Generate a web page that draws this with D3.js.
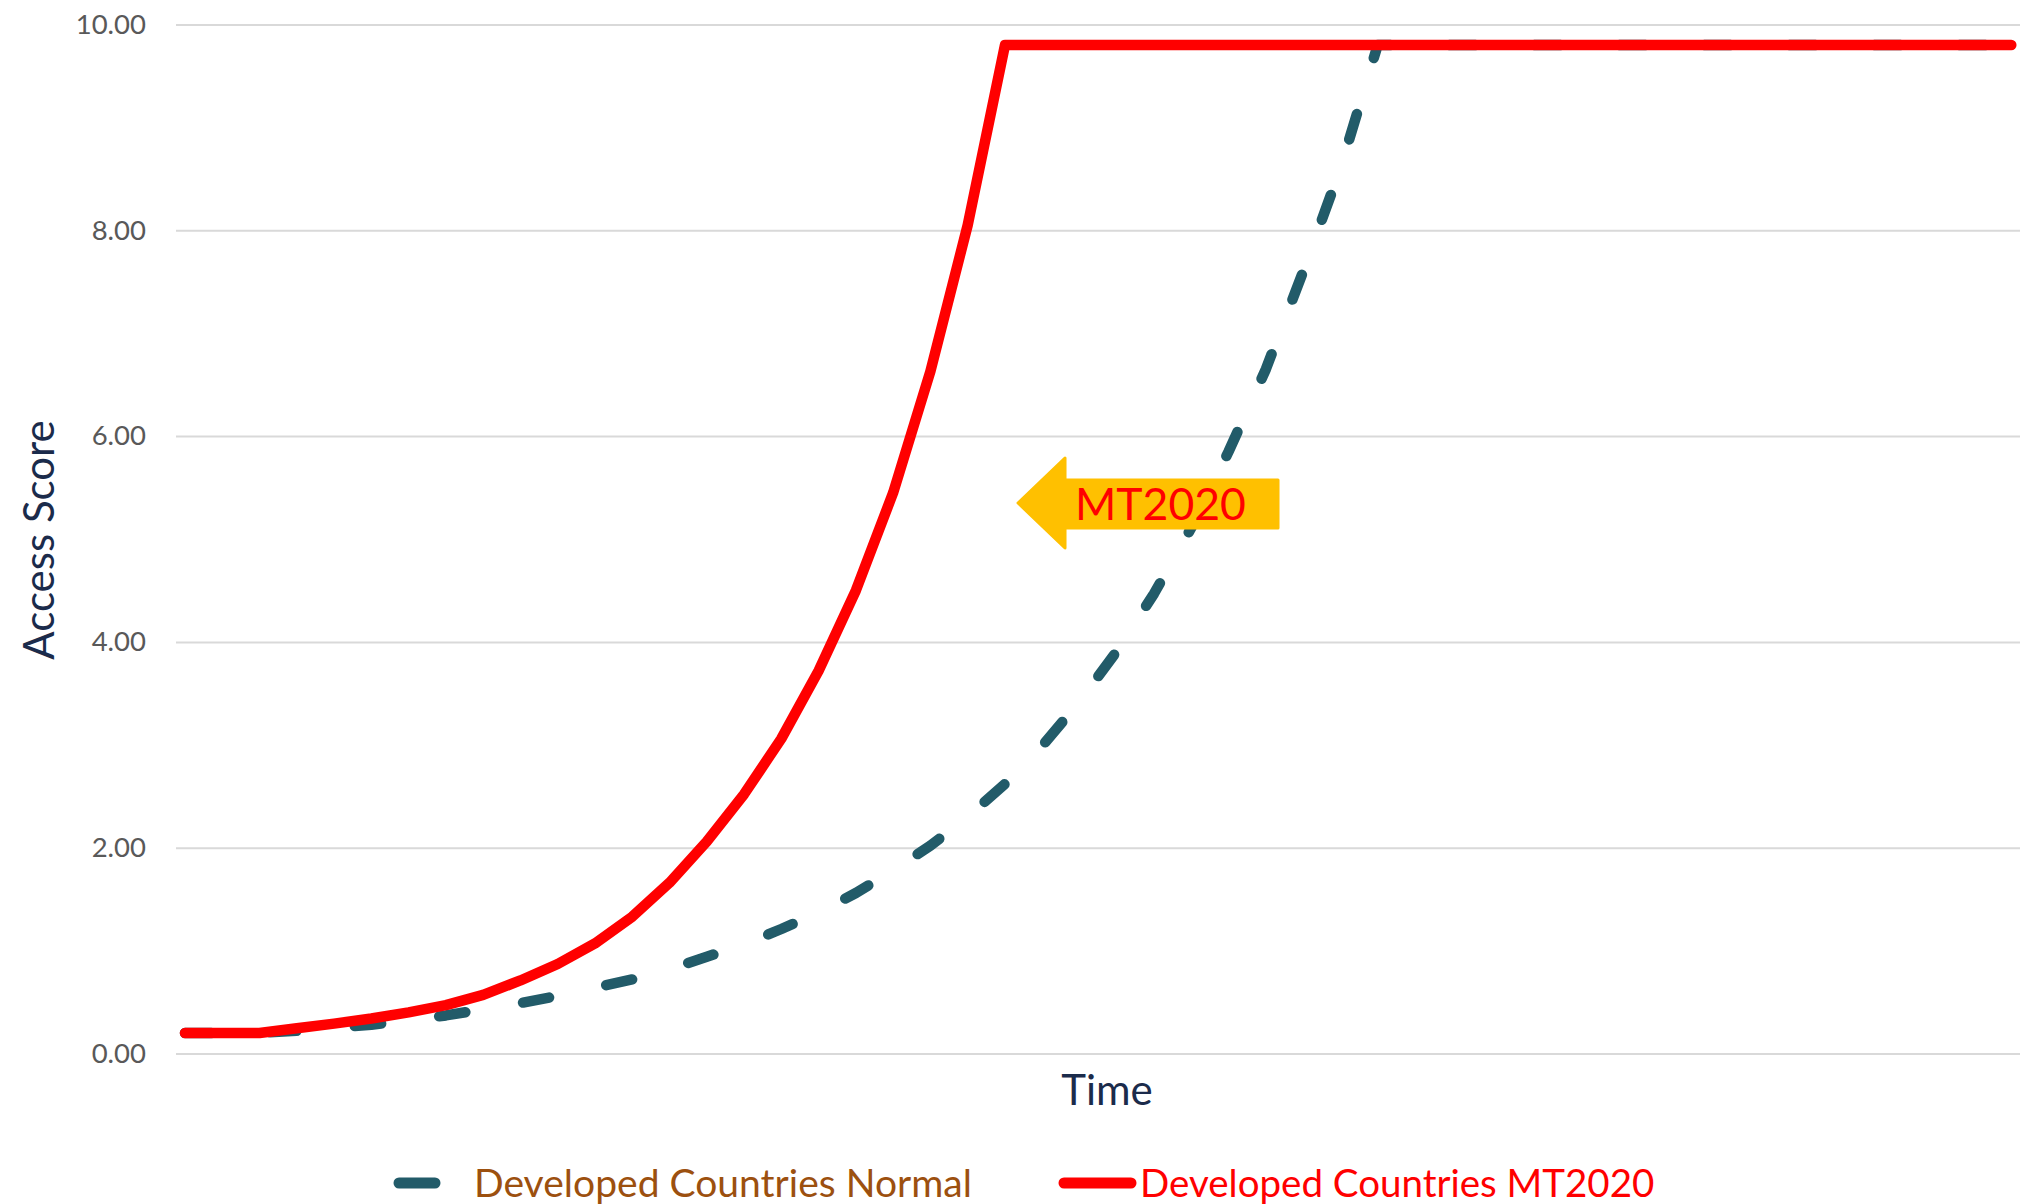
<!DOCTYPE html>
<html>
<head>
<meta charset="utf-8">
<script src="https://cdn.jsdelivr.net/npm/d3@7"></script>
<style>
  html, body { margin: 0; padding: 0; background: #ffffff; }
  svg { display: block; }
  text { font-family: Lato, "Open Sans", sans-serif; }
</style>
</head>
<body>
<svg id="chart" width="2020" height="1204"></svg>
<script>
// Time steps (no labels on the category axis)
const steps = d3.range(50);

// Access score under the normal pathway
const normalScores = [
  0.20, 0.20, 0.20, 0.22, 0.25, 0.28, 0.32, 0.37, 0.43, 0.49,
  0.56, 0.64, 0.72, 0.82, 0.94, 1.06, 1.21, 1.37, 1.56, 1.78,
  2.02, 2.30, 2.62, 2.99, 3.42, 3.91, 4.47, 5.11, 5.85, 6.65,
  7.60, 8.60, 9.80, 9.80, 9.80, 9.80, 9.80, 9.80, 9.80, 9.80,
  9.80, 9.80, 9.80, 9.80, 9.80, 9.80, 9.80, 9.80, 9.80, 9.80
];

// Access score under the accelerated MT2020 pathway
const mt2020Scores = [
  0.20, 0.20, 0.20, 0.245, 0.29, 0.34, 0.40, 0.47, 0.57, 0.71,
  0.87, 1.07, 1.33, 1.66, 2.06, 2.52, 3.06, 3.72, 4.50, 5.45,
  6.63, 8.05, 9.80, 9.80, 9.80, 9.80, 9.80, 9.80, 9.80, 9.80,
  9.80, 9.80, 9.80, 9.80, 9.80, 9.80, 9.80, 9.80, 9.80, 9.80,
  9.80, 9.80, 9.80, 9.80, 9.80, 9.80, 9.80, 9.80, 9.80, 9.80
];

const yTicks = [0, 2, 4, 6, 8, 10];
const seriesNames = ["Developed Countries Normal", "Developed Countries MT2020"];
const axisTitles = { x: "Time", y: "Access Score" };
const calloutLabel = "MT2020";
// callout arrow tip, in data units (step, score)
const calloutTip = { step: 22.35, score: 5.35 };

const svg = d3.select("#chart");

const x = d3.scaleLinear().domain([0, 49]).range([185, 2011.3]);
const y = d3.scaleLinear().domain([0, 10]).range([1053.5, 24.5]);

const gridLeft = 176, gridRight = 2020;

// horizontal gridlines + value labels via a left axis
const yAxis = d3.axisLeft(y)
  .tickValues(yTicks)
  .tickFormat(d3.format(".2f"))
  .tickSize(-(gridRight - gridLeft))
  .tickPadding(30);

const gAxis = svg.append("g")
  .attr("transform", `translate(${gridLeft},0)`)
  .call(yAxis);
gAxis.select(".domain").remove();
gAxis.selectAll(".tick line")
  .attr("stroke", "#D9D9D9")
  .attr("stroke-width", 2);
gAxis.selectAll(".tick text")
  .attr("fill", "#595959")
  .style("font-size", "27.5px")
  .style("font-family", "Lato, 'Open Sans', sans-serif");

const line = d3.line()
  .x((d, i) => x(steps[i]))
  .y(d => y(d))
  .curve(d3.curveLinear);

// normal pathway: dashed teal
svg.append("path")
  .datum(normalScores)
  .attr("d", line)
  .attr("fill", "none")
  .attr("stroke", "#225B69")
  .attr("stroke-width", 10.5)
  .attr("stroke-linecap", "round")
  .attr("stroke-linejoin", "round")
  .attr("stroke-dasharray", "26.5,58.5");

// MT2020 pathway: solid red
svg.append("path")
  .datum(mt2020Scores)
  .attr("d", line)
  .attr("fill", "none")
  .attr("stroke", "#FF0000")
  .attr("stroke-width", 10.5)
  .attr("stroke-linecap", "round")
  .attr("stroke-linejoin", "round");

// callout arrow pointing left
const tx = x(calloutTip.step), ty = y(calloutTip.score);
const arrowPts = [
  [tx, ty], [tx + 47, ty - 45], [tx + 47, ty - 23], [tx + 260, ty - 23],
  [tx + 260, ty + 25], [tx + 47, ty + 25], [tx + 47, ty + 45]
];
svg.append("path")
  .attr("d", "M" + arrowPts.map(p => p.join(",")).join("L") + "Z")
  .attr("fill", "#FFC000")
  .attr("stroke", "#FFC000")
  .attr("stroke-width", 3)
  .attr("stroke-linejoin", "round");
svg.append("text")
  .attr("x", tx + 57)
  .attr("y", ty + 17)
  .attr("fill", "#FF0000")
  .style("font-size", "44.5px")
  .text(calloutLabel);

// axis titles
svg.append("text")
  .attr("x", 1107)
  .attr("y", 1104.5)
  .attr("text-anchor", "middle")
  .attr("fill", "#1B2B4B")
  .style("font-size", "42px")
  .text(axisTitles.x);

svg.append("text")
  .attr("transform", "translate(54,540) rotate(-90)")
  .attr("text-anchor", "middle")
  .attr("fill", "#1B2B4B")
  .style("font-size", "42px")
  .text(axisTitles.y);

// legend
function fitWidth(sel, w) {
  const cur = sel.node().getComputedTextLength();
  if (Math.abs(cur - w) > 2) {
    sel.attr("textLength", w).attr("lengthAdjust", "spacingAndGlyphs");
  }
}

const legendY = 1183;
const legendItems = [
  { name: seriesNames[0], color: "#225B69", text: "#9C500F", x1: 399, x2: 435, tx: 474, tw: 498 },
  { name: seriesNames[1], color: "#FF0000", text: "#FF0000", x1: 1064, x2: 1131, tx: 1140, tw: 513 }
];
const lg = svg.append("g");
legendItems.forEach(it => {
  lg.append("line")
    .attr("x1", it.x1).attr("x2", it.x2)
    .attr("y1", legendY).attr("y2", legendY)
    .attr("stroke", it.color)
    .attr("stroke-width", 11)
    .attr("stroke-linecap", "round");
  const t = lg.append("text")
    .attr("x", it.tx)
    .attr("y", 1196.5)
    .attr("fill", it.text)
    .style("font-size", "38.5px")
    .text(it.name);
  fitWidth(t, it.tw);
});
</script>
</body>
</html>
